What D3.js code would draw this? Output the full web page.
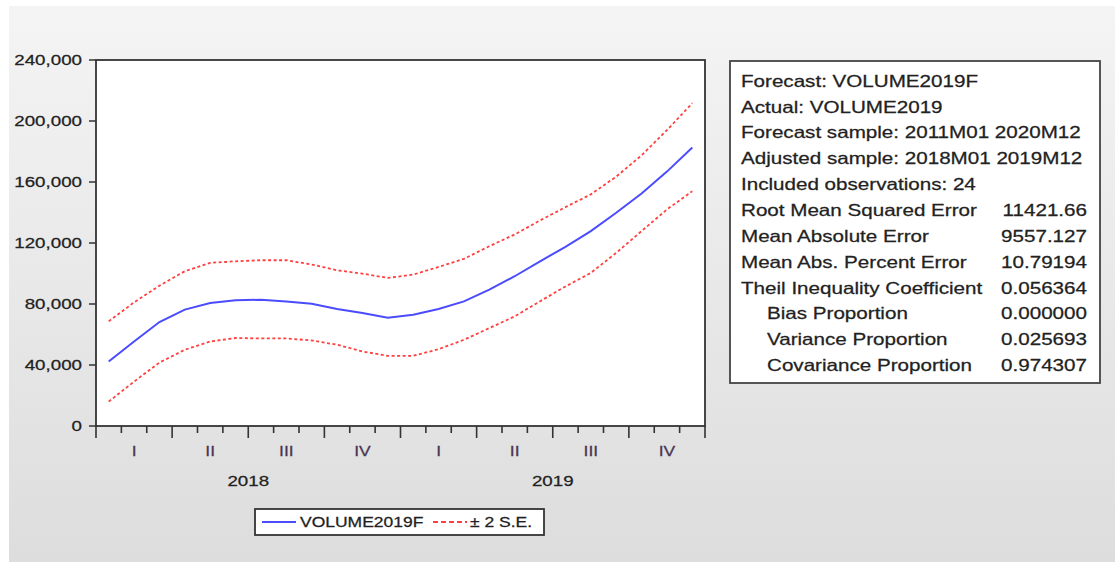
<!DOCTYPE html>
<html>
<head>
<meta charset="utf-8">
<script src="https://cdn.jsdelivr.net/npm/d3@7"></script>
<style>
  body { margin: 0; background: #fff; }
  text { font-family: "Liberation Sans", Arial, sans-serif; fill: #222; stroke: #222; stroke-width: 0.25px; }
</style>
</head>
<body>
<div id="content"></div>
<script>
// forecast values, monthly 2018M01 .. 2019M12
const forecast = [42300, 55400, 68200, 76300, 80700, 82400, 82800, 81700, 80200, 76700, 74100, 71000,
                  73000, 76700, 81700, 89400, 98200, 108000, 117500, 127800, 139800, 152500, 166800, 182600];
const upperSE = [68600, 81100, 92000, 101500, 107000, 108000, 108700, 108700, 105900, 102100, 99900, 97100,
                 99300, 104300, 109600, 117900, 125600, 134800, 143500, 151900, 163500, 177500, 194000, 211700];
const lowerSE = [16000, 29100, 41600, 50000, 55400, 57700, 57400, 57400, 56100, 53300, 48900, 46000,
                 46000, 50400, 56500, 64200, 71900, 81800, 91500, 100400, 113500, 127800, 142000, 154000];
const years = ["2018", "2019"];
const quarters = ["I", "II", "III", "IV"];
const yTicks = [0, 40000, 80000, 120000, 160000, 200000, 240000];
const statLabels = ["Forecast: VOLUME2019F", "Actual: VOLUME2019", "Forecast sample: 2011M01 2020M12",
  "Adjusted sample: 2018M01 2019M12", "Included observations: 24", "Root Mean Squared Error",
  "Mean Absolute Error", "Mean Abs. Percent Error", "Theil Inequality Coefficient",
  "Bias Proportion", "Variance Proportion", "Covariance Proportion"];
const statValues = ["", "", "", "", "", "11421.66", "9557.127", "10.79194", "0.056364", "0.000000", "0.025693", "0.974307"];
const legendLabels = ["VOLUME2019F", "\u00b1 2 S.E."];

const W = 1115, H = 562;
const sx = 1.25; // picture is stretched sideways, so glyphs are too

const svg = d3.select("#content").append("svg").attr("width", W).attr("height", H);

// grey panel background
const grad = svg.append("defs").append("linearGradient")
  .attr("id", "bg").attr("x1", 0).attr("y1", 0).attr("x2", 0).attr("y2", 1);
grad.append("stop").attr("offset", "0%").attr("stop-color", "#f4f4f4");
grad.append("stop").attr("offset", "100%").attr("stop-color", "#dddddd");
svg.append("rect").attr("x", 9).attr("y", 6).attr("width", W - 9).attr("height", H - 6).attr("fill", "url(#bg)");

// helper: put stretched text at x,y
function label(g, x, y, txt, size, anchor) {
  return g.append("text")
    .attr("transform", "translate(" + x + "," + y + ") scale(" + sx + ",1)")
    .attr("text-anchor", anchor || "start")
    .style("font-size", size + "px")
    .text(txt);
}

const pLeft = 96, pRight = 705, pTop = 60, pBottom = 426;
const n = forecast.length;
const x = d3.scaleLinear().domain([0, n]).range([pLeft, pRight]);
const y = d3.scaleLinear().domain([0, 240000]).range([pBottom, pTop]);

// plot area
svg.append("rect").attr("x", pLeft).attr("y", pTop).attr("width", pRight - pLeft).attr("height", pBottom - pTop)
  .attr("fill", "#fff");

// y ticks + labels
yTicks.forEach(v => {
  svg.append("line").attr("x1", pLeft - 7).attr("x2", pLeft).attr("y1", y(v)).attr("y2", y(v))
    .style("stroke", "#333").style("stroke-width", 1.5);
  label(svg, 82, y(v) + 5.4, d3.format(",")(v), 15, "end");
});

// x ticks: one per month, longer at quarter boundaries
d3.range(0, n + 1).forEach(i => {
  const long = i % 3 === 0;
  svg.append("line").attr("x1", x(i)).attr("x2", x(i)).attr("y1", pBottom).attr("y2", pBottom + (long ? 12 : 7))
    .style("stroke", "#333").style("stroke-width", 1.6);
});
years.forEach((yr, k) => {
  quarters.forEach((q, j) => {
    label(svg, x(k * 12 + j * 3 + 1.5), 455.5, q, 14, "middle").style("fill", "#4a3452").style("stroke", "#4a3452");
  });
  label(svg, x(k * 12 + 6), 485.5, yr, 15, "middle");
});

// lines
const line = d3.line().x((d, i) => x(i + 0.5)).y(d => y(d)).curve(d3.curveLinear);
svg.append("path").datum(upperSE).attr("d", line).attr("fill", "none")
  .style("stroke", "#ff4040").style("stroke-width", 1.8).style("stroke-dasharray", "3,2.5");
svg.append("path").datum(lowerSE).attr("d", line).attr("fill", "none")
  .style("stroke", "#ff4040").style("stroke-width", 1.8).style("stroke-dasharray", "3,2.5");
svg.append("path").datum(forecast).attr("d", line).attr("fill", "none")
  .style("stroke", "#4b4bff").style("stroke-width", 2);

// frame
svg.append("rect").attr("x", pLeft).attr("y", pTop).attr("width", pRight - pLeft).attr("height", pBottom - pTop)
  .attr("fill", "none").style("stroke", "#333").style("stroke-width", 1.8);

// stats box
svg.append("rect").attr("x", 730).attr("y", 61).attr("width", 370).attr("height", 322)
  .attr("fill", "#fff").style("stroke", "#444").style("stroke-width", 1.8);
statLabels.forEach((s, i) => {
  const yy = 86.7 + i * 25.85;
  label(svg, i >= 9 ? 767 : 741, yy, s, 16.5);
  if (statValues[i]) label(svg, 1087, yy, statValues[i], 16.5, "end");
});

// legend
svg.append("rect").attr("x", 255).attr("y", 509).attr("width", 289).attr("height", 26)
  .attr("fill", "#fff").style("stroke", "#333").style("stroke-width", 1.8);
svg.append("line").attr("x1", 262).attr("x2", 296).attr("y1", 522).attr("y2", 522)
  .style("stroke", "#4b4bff").style("stroke-width", 2);
label(svg, 300, 527, legendLabels[0], 14);
svg.append("line").attr("x1", 433).attr("x2", 467).attr("y1", 522).attr("y2", 522)
  .style("stroke", "#ff4040").style("stroke-width", 1.8).style("stroke-dasharray", "5,3");
label(svg, 470, 527, legendLabels[1], 14);
</script>
</body>
</html>
